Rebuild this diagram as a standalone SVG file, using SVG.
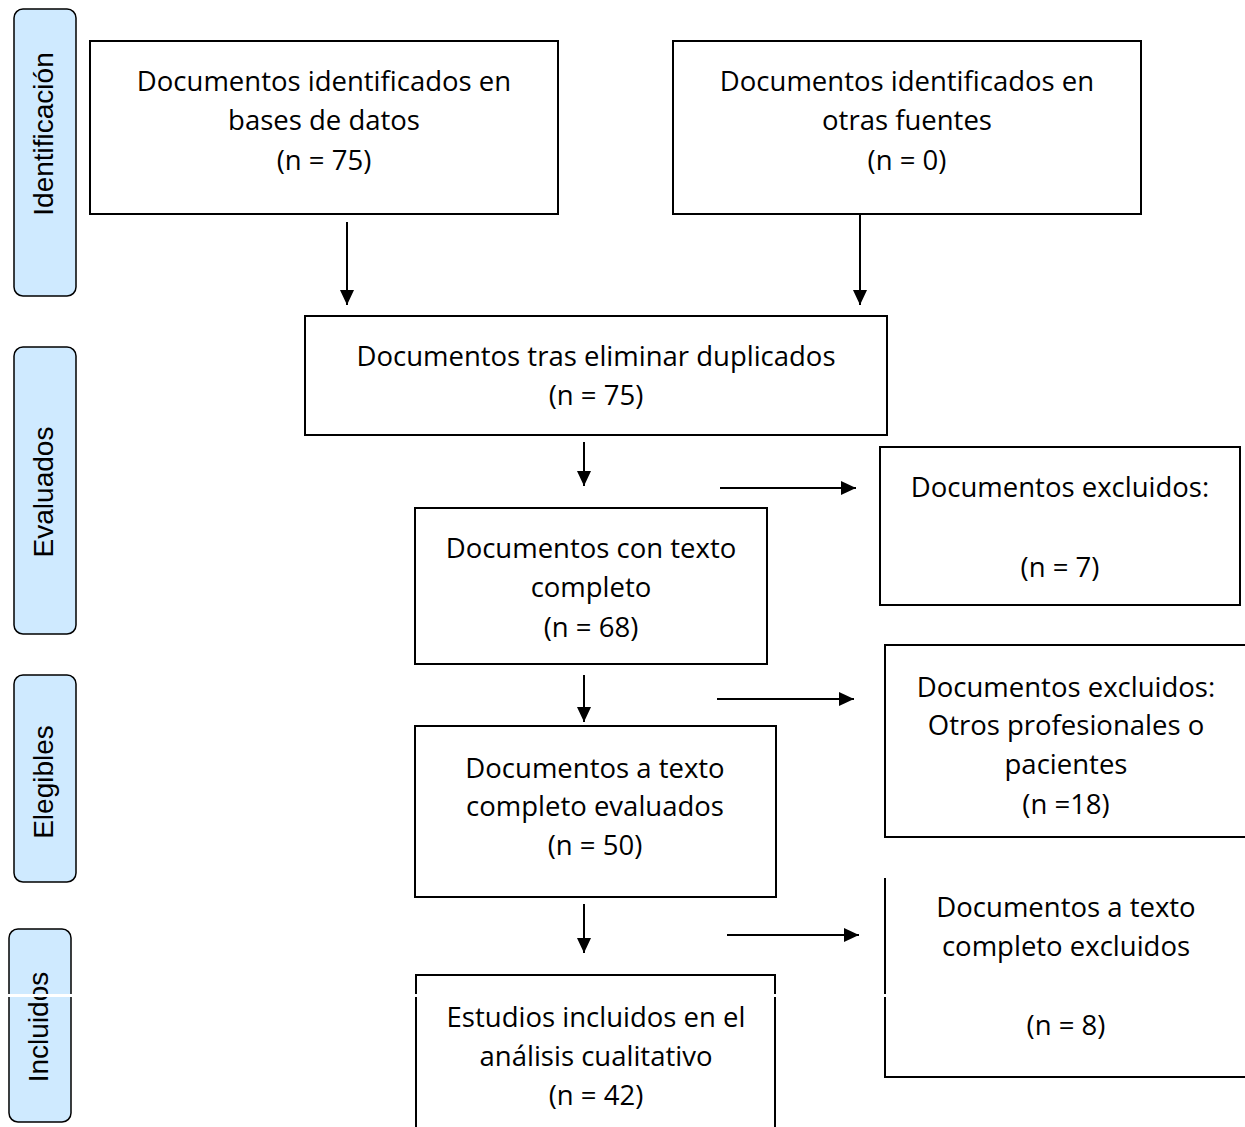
<svg xmlns="http://www.w3.org/2000/svg" width="1245" height="1127" viewBox="0 0 1245 1127">
<defs>
<style>
.box{fill:#fff;stroke:#000;stroke-width:2}
.ln{fill:none;stroke:#000;stroke-width:2}
.side{fill:#cfeaff;stroke:#000;stroke-width:1.5}
.t{font-family:"Open Sans",Lato,sans-serif;font-size:27.5px;fill:#000;text-anchor:middle;font-variant-ligatures:none}
.s{font-family:"Liberation Sans",Arial,sans-serif;font-size:28px;fill:#000;text-anchor:middle}
.c{stroke:#000;stroke-width:2;fill:none;marker-end:url(#ah)}
</style>
<marker id="ah" viewBox="0 0 15 14" refX="15" refY="7" markerWidth="15" markerHeight="14" markerUnits="userSpaceOnUse" orient="auto">
<path d="M0,0 L15,7 L0,14 z" fill="#000"/>
</marker>
</defs>
<rect width="1245" height="1127" fill="#fff"/>

<g id="lbl-identificacion">
<rect class="side" x="14" y="9" width="62" height="287" rx="9"/>
<text class="s" transform="translate(53,134) rotate(-90)">Identificación</text>
</g>
<g id="lbl-evaluados">
<rect class="side" x="14" y="347" width="62" height="287" rx="9"/>
<text class="s" transform="translate(53,492) rotate(-90)">Evaluados</text>
</g>
<g id="lbl-elegibles">
<rect class="side" x="14" y="675" width="62" height="207" rx="9"/>
<text class="s" transform="translate(53,782) rotate(-90)">Elegibles</text>
</g>
<g id="lbl-incluidos">
<rect class="side" x="9" y="929" width="62" height="193" rx="9"/>
<text class="s" transform="translate(48,1027) rotate(-90)">Incluidos</text>
</g>

<g id="n-bases">
<rect class="box" x="90" y="41" width="468" height="173"/>
<text class="t" x="324" y="91">Documentos identificados en</text>
<text class="t" x="324" y="130">bases de datos</text>
<text class="t" x="324" y="170">(n = 75)</text>
</g>
<g id="n-otras">
<rect class="box" x="673" y="41" width="468" height="173"/>
<text class="t" x="907" y="91">Documentos identificados en</text>
<text class="t" x="907" y="130">otras fuentes</text>
<text class="t" x="907" y="170">(n = 0)</text>
</g>
<g id="n-duplicados">
<rect class="box" x="305" y="316" width="582" height="119"/>
<text class="t" x="596" y="366">Documentos tras eliminar duplicados</text>
<text class="t" x="596" y="405">(n = 75)</text>
</g>
<g id="n-excl7">
<rect class="box" x="880" y="447" width="360" height="158"/>
<text class="t" x="1060" y="497">Documentos excluidos:</text>
<text class="t" x="1060" y="577">(n = 7)</text>
</g>
<g id="n-texto68">
<rect class="box" x="415" y="508" width="352" height="156"/>
<text class="t" x="591" y="558">Documentos con texto</text>
<text class="t" x="591" y="597">completo</text>
<text class="t" x="591" y="637">(n = 68)</text>
</g>
<g id="n-excl18">
<path class="ln" d="M1246,645 H885 V837 H1246"/>
<text class="t" x="1066" y="697">Documentos excluidos:</text>
<text class="t" x="1066" y="735">Otros profesionales o</text>
<text class="t" x="1066" y="774">pacientes</text>
<text class="t" x="1066" y="814">(n =18)</text>
</g>
<g id="n-eval50">
<rect class="box" x="415" y="726" width="361" height="171"/>
<text class="t" x="595" y="778">Documentos a texto</text>
<text class="t" x="595" y="816">completo evaluados</text>
<text class="t" x="595" y="855">(n = 50)</text>
</g>
<g id="n-excl8">
<path class="ln" d="M885,878 V1077 H1246"/>
<text class="t" x="1066" y="917">Documentos a texto</text>
<text class="t" x="1066" y="956">completo excluidos</text>
<text class="t" x="1066" y="1035">(n = 8)</text>
</g>
<g id="n-incl42">
<path class="ln" d="M416,1128 V975 H775 V1128"/>
<text class="t" x="596" y="1027">Estudios incluidos en el</text>
<text class="t" x="596" y="1066">análisis cualitativo</text>
<text class="t" x="596" y="1105">(n = 42)</text>
</g>

<g id="connectors">
<line class="c" x1="347" y1="222" x2="347" y2="305"/>
<line class="c" x1="860" y1="214" x2="860" y2="305"/>
<line class="c" x1="584" y1="442" x2="584" y2="486"/>
<line class="c" x1="720" y1="488" x2="856" y2="488"/>
<line class="c" x1="584" y1="675" x2="584" y2="722"/>
<line class="c" x1="717" y1="699" x2="854" y2="699"/>
<line class="c" x1="584" y1="904" x2="584" y2="953"/>
<line class="c" x1="727" y1="935" x2="859" y2="935"/>
</g>

<rect x="0" y="994" width="1245" height="3" fill="#fff"/>
</svg>
